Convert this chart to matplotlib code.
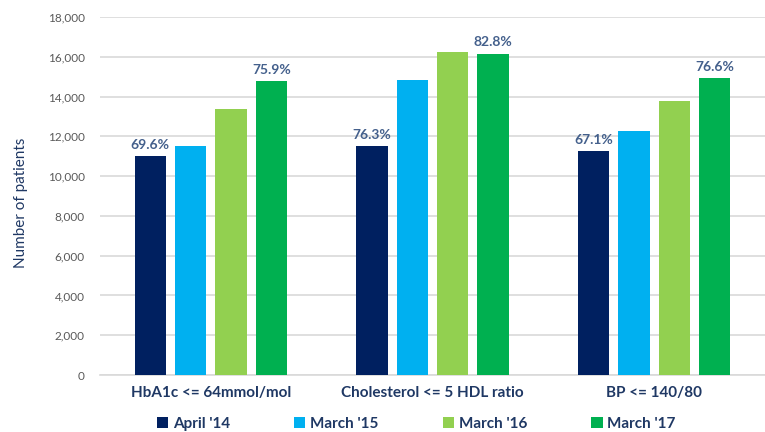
import matplotlib.pyplot as plt
import numpy as np

categories = ["HbA1c <= 64mmol/mol", "Cholesterol <= 5 HDL ratio", "BP <= 140/80"]
series_names = ["April '14", "March '15", "March '16", "March '17"]
april_14 = [11000, 11500, 11240]
march_15 = [11500, 14850, 12250]
march_16 = [13380, 16240, 13800]
march_17 = [14760, 16140, 14930]
first_pct = ["69.6%", "76.3%", "67.1%"]
last_pct = ["75.9%", "82.8%", "76.6%"]

colors = ["#002060", "#00B0F0", "#92D050", "#00B050"]
navy = "#1F3864"
plt.rcParams['font.family'] = ['Lato', 'DejaVu Sans']

fig = plt.figure(figsize=(7.65, 4.32), dpi=100)
ax = fig.add_axes([100 / 765, 1 - 375 / 432, 665 / 765, 358 / 432])

x = np.arange(len(categories))
step = 0.182
width = 0.142
all_series = [april_14, march_15, march_16, march_17]
bars = []
for i, (vals, name) in enumerate(zip(all_series, series_names)):
    b = ax.bar(x + (i - 1.5) * step, vals, width, color=colors[i], label=name, zorder=3)
    bars.append(b)

for j in range(len(categories)):
    r = bars[0][j]
    ax.annotate(first_pct[j], (r.get_x() + r.get_width() / 2, r.get_height()),
                xytext=(0, 4), textcoords="offset points", ha="center", va="bottom",
                fontsize=10, fontweight="bold", color="#44608C")
    r = bars[3][j]
    ax.annotate(last_pct[j], (r.get_x() + r.get_width() / 2, r.get_height()),
                xytext=(0, 4), textcoords="offset points", ha="center", va="bottom",
                fontsize=10, fontweight="bold", color="#44608C")

ax.set_xlim(-0.5, 2.5)
ax.set_ylim(0, 18000)
ax.set_yticks(range(0, 18001, 2000))
ax.set_yticklabels([f"{v:,}" for v in range(0, 18001, 2000)])
ax.set_xticks(x)
ax.set_xticklabels(categories, fontsize=11, fontweight="bold", color=navy)
ax.tick_params(axis="y", labelsize=8.5, labelcolor="#595959", length=0, pad=11)
ax.tick_params(axis="x", length=0, pad=8)
ax.grid(axis="y", color="#D9D9D9", linewidth=1.2, zorder=0)
for s in ["top", "right", "left"]:
    ax.spines[s].set_visible(False)
ax.spines["bottom"].set_color("#D9D9D9")
ax.spines["bottom"].set_linewidth(1.2)

ax.set_ylabel("Number of patients", fontsize=11, color=navy)
ax.yaxis.set_label_coords(-0.108, 0.48)

leg = fig.legend(loc="center", bbox_to_anchor=(0.544, 1 - 424 / 432), ncol=4, frameon=False,
                 fontsize=11, labelcolor=navy, handlelength=0.75, handleheight=0.75,
                 handletextpad=0.3, columnspacing=4.2)
for t in leg.get_texts():
    t.set_fontweight("bold")

fig.savefig("out.png", dpi=100)
